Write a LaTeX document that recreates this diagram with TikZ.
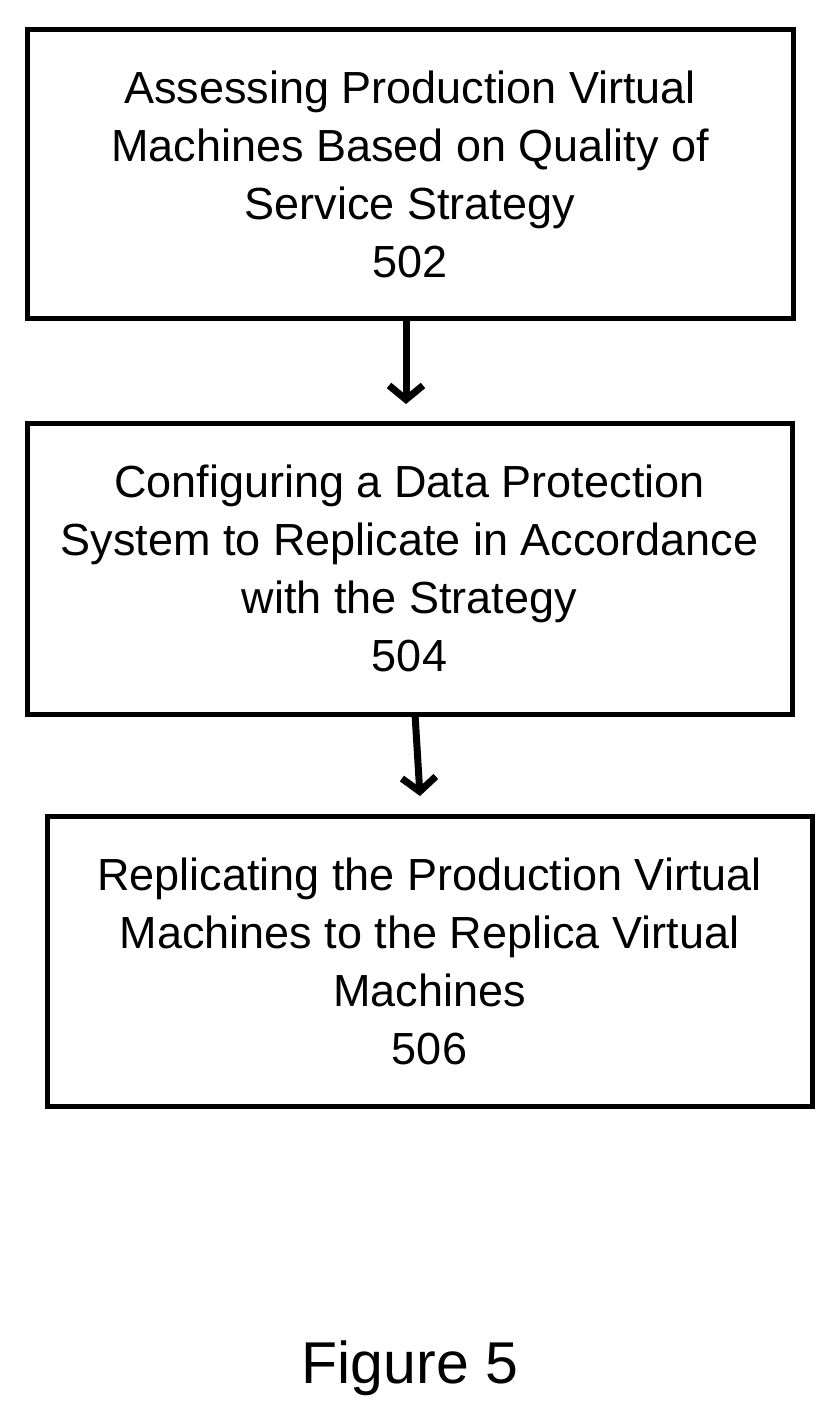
\documentclass[tikz,border=0pt]{standalone}
\usepackage{fontspec}
\setmainfont{Liberation Sans}
\usetikzlibrary{arrows.meta}
\begin{document}
\begin{tikzpicture}[x=1pt,y=-1pt,
  stepbox/.style={draw,line width=5pt,anchor=north west,inner sep=0pt},
  lbl/.style={align=center,font=\fontsize{45}{58}\selectfont},
  conn/.style={line width=7pt,-{Straight Barb[length=14pt,width=34pt,line width=7pt]}}]
\useasboundingbox (0,0) rectangle (835,1421);
\node[stepbox,minimum width=766pt,minimum height=288pt] (b1) at (24.5,27.5) {};
\node[stepbox,minimum width=765pt,minimum height=291pt] (b2) at (24.5,420.5) {};
\node[stepbox,minimum width=765pt,minimum height=290pt] (b3) at (44.5,813.5) {};
\node[lbl] (t1) at (b1.center) {Assessing Production Virtual\\Machines Based on Quality of\\Service Strategy\\502};
\node[lbl] (t2) at (b2.center) {Configuring a Data Protection\\System to Replicate in Accordance\\with the Strategy\\504};
\node[lbl] (t3) at (b3.center) {Replicating the Production Virtual\\Machines to the Replica Virtual\\Machines\\506};
\coordinate (a1) at (406,404);
\coordinate (a2) at (420,796);
\draw[conn] (b1.south -| a1) -- (a1);
\draw[conn] (415,714) -- (a2);
\node[font=\fontsize{59}{66}\selectfont] (fig) at (410,1368) {Figure 5};
\end{tikzpicture}
\end{document}
